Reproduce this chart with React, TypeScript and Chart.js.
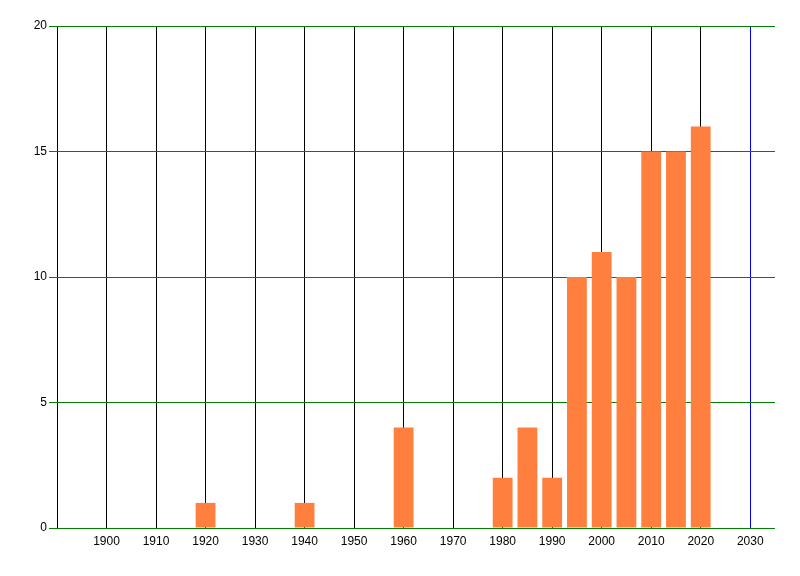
import React, { useEffect, useRef } from "react";
import { Chart, registerables } from "chart.js";

Chart.register(...registerables);

const years = [1920, 1940, 1960, 1980, 1985, 1990, 1995, 2000, 2005, 2010, 2015, 2020];
const counts = [1, 1, 4, 2, 4, 2, 10, 11, 10, 15, 15, 16];
const xTicks = [1890, 1900, 1910, 1920, 1930, 1940, 1950, 1960, 1970, 1980, 1990, 2000, 2010, 2020, 2030];
const xLabelled = [1900, 1910, 1920, 1930, 1940, 1950, 1960, 1970, 1980, 1990, 2000, 2010, 2020, 2030];
const yTicks = [0, 5, 10, 15, 20];

export default function App() {
  const ref = useRef<HTMLCanvasElement | null>(null);
  useEffect(() => {
    document.body.style.margin = "0";
    const ctx = ref.current!;
    const font = { family: "'Liberation Sans', Arial, sans-serif", size: 12 };
    const chart = new Chart(ctx, {
      type: "bar",
      data: {
        datasets: [
          {
            data: years.map((y, i) => ({ x: y, y: counts[i] })),
            backgroundColor: "#FF7F3F",
            borderWidth: 0,
            barPercentage: 0.8,
            categoryPercentage: 1,
          },
        ],
      },
      options: {
        animation: false,
        responsive: false,
        maintainAspectRatio: false,
        layout: { padding: { left: 0, top: 26, right: 25, bottom: 0 } },
        plugins: { legend: { display: false }, tooltip: { enabled: false } },
        scales: {
          x: {
            type: "linear",
            offset: false,
            min: 1890,
            max: 2035,
            afterBuildTicks: (s: any) => {
              s.ticks = xTicks.map((v) => ({ value: v }));
            },
            afterFit: (s: any) => {
              s.height = 48;
            },
            grid: {
              color: (c: any) => (c.tick && c.tick.value === 2030 ? "blue" : c.tick ? "#000" : "red"),
              lineWidth: 1,
              drawTicks: false,
              offset: false,
            },
            border: { display: false },
            ticks: {
              color: "#000",
              font,
              padding: 6,
              maxRotation: 0,
              autoSkip: false,
              callback: (v: any) => (xLabelled.includes(v) ? String(v) : ""),
            },
          },
          y: {
            min: 0,
            max: 20,
            afterBuildTicks: (s: any) => {
              s.ticks = yTicks.map((v) => ({ value: v }));
            },
            afterFit: (s: any) => {
              s.width = 57;
            },
            grid: { color: "green", lineWidth: 1, tickLength: 8, drawTicks: true },
            border: { display: false },
            ticks: { color: "#000", font, padding: 2, callback: (v: any) => String(v) },
          },
        },
      },
    } as any);
    return () => chart.destroy();
  }, []);
  return (
    <div style={{ width: 800, height: 576, background: "#fff" }}>
      <canvas ref={ref} width={800} height={576} style={{ display: "block" }} />
    </div>
  );
}
